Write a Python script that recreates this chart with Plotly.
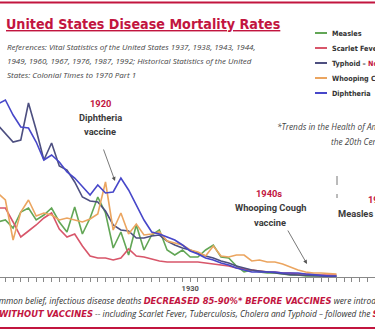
import plotly.graph_objects as go

years = list(range(1905, 1950))

measles = [13.75, 14.25, 12.25, 16.25, 17.25, 14.25, 15.5, 17.25, 13.75, 11.25,
           17.5, 10.75, 14.75, 20.0, 16.0, 7.25, 11.25, 5.5, 13.0, 6.75,
           10.5, 11.75, 6.75, 5.5, 6.75, 5.0, 5.0, 6.75, 8.0, 5.0,
           4.75, 2.75, 1.25, 1.75, 1.25, 1.0, 1.0, 0.75, 0.5, 0.5,
           0.25, 0.25, 0.25, 0.25, 0.25]
scarlet = [17.25, 17.25, 13.75, 10.0, 11.5, 13.0, 14.75, 16.0, 12.0, 10.0,
           10.75, 7.75, 5.25, 4.75, 4.75, 4.25, 4.75, 7.0, 5.25, 5.0,
           4.5, 4.0, 3.75, 3.75, 3.75, 3.75, 3.75, 3.5, 3.25, 3.0,
           2.75, 2.25, 2.0, 1.75, 1.5, 1.25, 1.25, 1.0, 1.0, 0.75,
           0.75, 0.6, 0.5, 0.5, 0.5]
typhoid = [38.0, 36.0, 33.75, 34.25, 43.5, 36.75, 29.25, 33.5, 27.75, 26.75,
           23.75, 20.0, 19.0, 18.75, 16.5, 13.0, 11.75, 11.5, 9.75, 9.75,
           10.25, 10.5, 9.0, 8.0, 7.25, 6.75, 6.0, 5.25, 4.75, 4.0,
           3.5, 2.75, 2.25, 1.75, 1.5, 1.25, 1.0, 0.75, 0.6, 0.5,
           0.4, 0.25, 0.25, 0.1, 0.1]
whooping = [21.0, 19.25, 9.25, 16.25, 19.25, 15.25, 16.0, 15.5, 14.25, 14.75,
            14.25, 13.75, 14.5, 15.75, 23.75, 11.75, 16.0, 10.75, 13.25, 10.5,
            10.75, 11.25, 9.0, 8.5, 8.0, 6.75, 6.25, 5.25, 7.75, 5.25,
            5.0, 5.5, 5.5, 4.0, 4.25, 3.75, 3.75, 3.25, 2.5, 1.75,
            1.25, 1.0, 1.0, 0.9, 0.75]
diphtheria = [43.25, 44.25, 40.5, 37.5, 37.25, 33.75, 29.25, 30.5, 28.75, 26.25,
              24.75, 22.75, 20.5, 23.0, 21.0, 21.25, 24.75, 21.75, 18.0, 14.25,
              11.25, 10.75, 10.0, 9.25, 8.0, 6.5, 5.75, 4.75, 4.25, 3.5,
              3.0, 2.25, 1.75, 1.25, 1.25, 1.25, 1.25, 1.0, 1.0, 1.0,
              0.75, 0.5, 0.4, 0.25, 0.25]

series_names = ["Measles", "Scarlet Fever", "Typhoid", "Whooping Cough", "Diphtheria"]
series_values = [measles, scarlet, typhoid, whooping, diphtheria]
colors = ["#62a656", "#d8566a", "#4d4f80", "#eba560", "#4747c9"]

tick_years = list(range(1905, 1955))
tick_labels = [str(y) if y == 1930 else "" for y in tick_years]

W, H = 375, 333
T, B = 60, 56
PH = H - T - B


def px(x):
    return x / W


def py(y):
    return (H - B - y) / PH


CRIMSON = "#c2153f"
DARK = "#3a3a3a"

fig = go.Figure()
for name, vals, col in zip(series_names, series_values, colors):
    fig.add_trace(go.Scatter(x=years, y=vals, mode="lines", name=name,
                             line=dict(color=col, width=1.6), showlegend=False))

shapes = []
annotations = []


def note(x, y, text, font, xanchor="center"):
    annotations.append(dict(xref="paper", yref="paper", x=px(x), y=py(y), xanchor=xanchor,
                            yanchor="middle", text=text, showarrow=False, font=font))


# top / bottom rules
shapes.append(dict(type="line", xref="paper", yref="paper", x0=px(0), x1=px(375),
                   y0=py(2.5), y1=py(2.5), line=dict(color=CRIMSON, width=2)))
shapes.append(dict(type="line", xref="paper", yref="paper", x0=px(0), x1=px(375),
                   y0=py(328), y1=py(328), line=dict(color=CRIMSON, width=2)))

# title
note(4, 24, "<u>United States Disease Mortality Rates</u>",
     dict(family="DejaVu Sans Condensed, sans-serif", size=14.2, color=CRIMSON, weight="bold"),
     xanchor="left")

refs = ["References: Vital Statistics of the United States 1937, 1938, 1943, 1944,",
        "1949, 1960, 1967, 1976, 1987, 1992; Historical Statistics of the United",
        "States: Colonial Times to 1970 Part 1"]
for i, t in enumerate(refs):
    note(5, 47 + 13.5 * i, t, dict(family="Open Sans", size=8.0, color="#444", style="italic"),
         xanchor="left")

# legend
leg_text = ["Measles", "Scarlet Fever", "Typhoid – <span style='color:%s'>No Vaccine</span>" % CRIMSON,
            "Whooping Cough", "Diphtheria"]
for i, (t, col) in enumerate(zip(leg_text, colors)):
    yy = 33 + 15 * i
    shapes.append(dict(type="line", xref="paper", yref="paper", x0=px(315), x1=px(327),
                       y0=py(yy), y1=py(yy), line=dict(color=col, width=2)))
    note(330, yy, t, dict(family="DejaVu Sans Condensed, sans-serif", size=7.2, color="#333",
                          weight="bold"), xanchor="left")

# vaccine annotations
lab_font = dict(family="Roboto", size=9.3, color=DARK, weight="bold")
red_font = dict(family="Roboto", size=9.3, color=CRIMSON, weight="bold")
note(100, 103, "1920", red_font)
note(100, 117, "Diphtheria", lab_font)
note(100, 131, "vaccine", lab_font)
note(269, 193, "1940s", red_font)
note(270, 207, "Whooping Cough", lab_font)
note(270, 222, "vaccine", lab_font)
note(378, 199, "1963", red_font)
note(372, 213, "Measles vaccine", lab_font)
annotations += [
    dict(xref="paper", yref="paper", x=px(115), y=py(181), ax=-12, ay=-33, text="", showarrow=True,
         arrowhead=2, arrowsize=1, arrowwidth=0.8, arrowcolor="#555"),
    dict(xref="paper", yref="paper", x=px(307), y=py(264), ax=-20, ay=-35, text="", showarrow=True,
         arrowhead=2, arrowsize=1, arrowwidth=0.8, arrowcolor="#555"),
]
shapes.append(dict(type="line", xref="paper", yref="paper", x0=px(337), x1=px(337), y0=py(176), y1=py(198),
                   line=dict(color="#777", width=1, dash="dash")))

# trends note
it_font = dict(family="Open Sans", size=8.3, color="#444", style="italic")
note(354, 126, "*Trends in the Health of Americans during", it_font)
note(362, 141, "the 20th Century", it_font)

# bottom text
bt_font = dict(family="Open Sans", size=8.4, color="#333", style="italic")
BOLD = "font-family:DejaVu Sans;font-weight:bold;font-style:italic;color:%s" % CRIMSON
line1 = ("Contrary to common belief, infectious disease deaths "
         "<span style='%s'>DECREASED 85-90%%* BEFORE VACCINES</span> were introduced..." % BOLD)
line2 = ("<span style='%s'>WITHOUT VACCINES</span> -- including Scarlet Fever, Tuberculosis, "
         "Cholera and Typhoid – followed the <span style='%s'>SAME</span> pattern" % (BOLD, BOLD))
note(-56, 300, line1, bt_font, xanchor="left")
note(-3, 313, line2, bt_font, xanchor="left")

fig.update_layout(
    width=W, height=H,
    margin=dict(l=0, r=0, t=T, b=B),
    paper_bgcolor="white", plot_bgcolor="white",
    showlegend=False,
    shapes=shapes, annotations=annotations,
    xaxis=dict(range=[1905.3, 1954.0], showgrid=False, zeroline=False, showline=True,
               linecolor="#888", linewidth=1, ticks="outside", ticklen=4, tickcolor="#888",
               tickmode="array", tickvals=tick_years, ticktext=tick_labels,
               tickfont=dict(family="Roboto", size=7.5, color="#555", weight="bold")),
    yaxis=dict(range=[0, 54.25], visible=False, showgrid=False, zeroline=False),
)

fig.write_html("out.html")
